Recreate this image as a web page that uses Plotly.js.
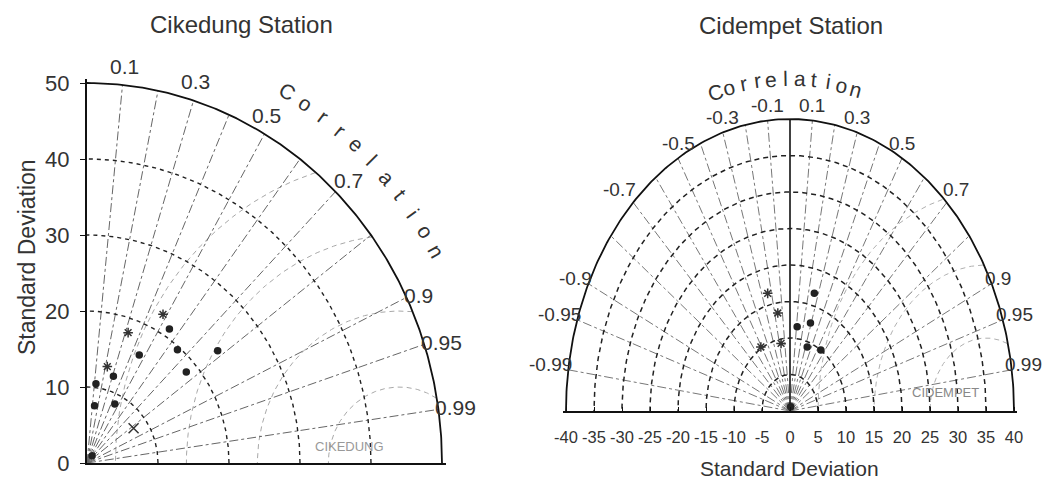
<!DOCTYPE html>
<html>
<head>
<meta charset="utf-8">
<script src="https://cdn.plot.ly/plotly-3.0.1.min.js"></script>
<style>html,body{margin:0;padding:0;background:#fff;}#chart{width:1044px;height:488px;}</style>
</head>
<body>
<div id="chart"></div>
<script>
// ---------------- data ----------------
// Left panel: Cikedung Station
const leftTitle = "Cikedung Station";
const leftStdTicks = [0, 10, 20, 30, 40, 50];
const leftStdArcs = [10, 20, 30, 40];
const leftMaxStd = 50;
const leftCorrLines = [0.1, 0.2, 0.3, 0.4, 0.5, 0.6, 0.7, 0.8, 0.9, 0.95, 0.99];
const leftCorrLabels = [0.1, 0.3, 0.5, 0.7, 0.9, 0.95, 0.99];
const leftRefStd = 44;
const leftRmsArcs = [10, 20, 30, 40];
const leftRefName = "CIKEDUNG";
const leftDotStd  = [21.1, 16.0, 19.6, 23.6, 12.0, 7.6, 18.4, 8.7, 10.5, 1.2];
const leftDotCorr = [0.55, 0.46, 0.65, 0.78, 0.31, 0.14, 0.76, 0.45, 0.12, 0.60];
const leftStarStd  = [22.3, 18.1, 13.0];
const leftStarCorr = [0.48, 0.32, 0.22];
const leftCrossStd  = [8.0];
const leftCrossCorr = [0.82];

// Right panel: Cidempet Station
const rightTitle = "Cidempet Station";
const rightStdTicks = [-40, -35, -30, -25, -20, -15, -10, -5, 0, 5, 10, 15, 20, 25, 30, 35, 40];
const rightStdArcs = [5, 10, 15, 20, 25, 30, 35];
const rightMaxStd = 40;
const rightCorrLines = [-0.99, -0.95, -0.9, -0.8, -0.7, -0.6, -0.5, -0.4, -0.3, -0.2, -0.1,
                        0.1, 0.2, 0.3, 0.4, 0.5, 0.6, 0.7, 0.8, 0.9, 0.95, 0.99];
const rightCorrLabels = [-0.99, -0.95, -0.9, -0.7, -0.5, -0.3, -0.1, 0.1, 0.3, 0.5, 0.7, 0.9, 0.95, 0.99];
const rightRefStd = 35;
const rightRmsArcs = [10, 20, 30];
const rightRefName = "CIDEMPET";
const rightDotStd  = [12.6, 11.6, 9.3, 10.0, 16.7, 0.6];
const rightDotCorr = [0.29, 0.11, 0.33, 0.55, 0.26, 0.2];
const rightStarStd  = [13.6, 9.4, 10.2, 16.6];
const rightStarCorr = [-0.16, -0.17, -0.51, -0.24];

const axisTitle = "Standard Deviation";
const corrWord = "Correlation";

// ---------------- helpers ----------------
const W = 1044, H = 488;
const FONT = "Liberation Sans, Arial, sans-serif";
const traces = [];
const annotations = [];

// right panel frame (pixels) used to place text outside the axis range
const R_X0 = 790, R_XS = 5.6, R_Y0 = 411, R_YS = 7.3;
function rightPaper(x, y) { return [(R_X0 + x * R_XS) / W, 1 - (R_Y0 - y * R_YS) / H]; }

function polarXY(s, r) { return [s * r, s * Math.sqrt(Math.max(0, 1 - r * r))]; }

function arc(cx, rad, t0, t1, rMax, xMin) {
  const xs = [], ys = [];
  const n = 240;
  for (let i = 0; i <= n; i++) {
    const t = (t0 + (t1 - t0) * i / n) * Math.PI / 180;
    const x = cx + rad * Math.cos(t), y = rad * Math.sin(t);
    if (y < -1e-9) continue;
    if (rMax !== undefined && Math.hypot(x, y) > rMax + 1e-9) { xs.push(null); ys.push(null); continue; }
    if (xMin !== undefined && x < xMin) { xs.push(null); ys.push(null); continue; }
    xs.push(x); ys.push(y);
  }
  return [xs, ys];
}

function line(xa, ya, xs, ys, color, width, dash) {
  traces.push({type: 'scatter', mode: 'lines', x: xs, y: ys, xaxis: xa, yaxis: ya,
    line: {color: color, width: width, dash: dash}, hoverinfo: 'skip', showlegend: false, connectgaps: false});
}

function markers(xa, ya, stds, corrs, symbol, size, color) {
  const xs = [], ys = [];
  stds.forEach((s, i) => { const p = polarXY(s, corrs[i]); xs.push(p[0]); ys.push(p[1]); });
  traces.push({type: 'scatter', mode: 'markers', x: xs, y: ys, xaxis: xa, yaxis: ya, cliponaxis: false,
    marker: {symbol: symbol, size: size, color: color, line: {color: color, width: 1.5}},
    hoverinfo: 'skip', showlegend: false});
}

// ---------------- left panel ----------------
leftRmsArcs.forEach(r => { const a = arc(leftRefStd, r, 0, 180, leftMaxStd, 0); line('x', 'y', a[0], a[1], '#a8a8a8', 1, '5px,4px'); });
leftCorrLines.forEach(c => { const p = polarXY(leftMaxStd, c); line('x', 'y', [0, p[0]], [0, p[1]], '#666', 1, 'dashdot'); });
leftStdArcs.forEach(s => { const a = arc(0, s, 0, 90); line('x', 'y', a[0], a[1], '#222', 1.4, '4px,4px'); });
{ const a = arc(0, leftMaxStd, 0, 90); line('x', 'y', a[0], a[1], '#111', 1.8, 'solid'); }
markers('x', 'y', leftDotStd, leftDotCorr, 'circle', 6, '#222');
markers('x', 'y', leftStarStd, leftStarCorr, 'asterisk-open', 8, '#333');
markers('x', 'y', leftCrossStd, leftCrossCorr, 'x-thin-open', 10, '#333');

// ---------------- right panel ----------------
rightRmsArcs.forEach(r => { const a = arc(rightRefStd, r, 0, 180, rightMaxStd); line('x2', 'y2', a[0], a[1], '#b0b0b0', 1, '5px,4px'); });
rightCorrLines.forEach(c => { const p = polarXY(rightMaxStd, c); line('x2', 'y2', [0, p[0]], [0, p[1]], '#777', 1, 'dashdot'); });
{ const p = polarXY(rightMaxStd, 0); line('x2', 'y2', [0, p[0]], [0, p[1]], '#111', 1.6, 'solid'); }
rightStdArcs.forEach(s => { const a = arc(0, s, 0, 180); line('x2', 'y2', a[0], a[1], '#222', 1.5, '5px,4px'); });
{ const a = arc(0, rightMaxStd, 0, 180); line('x2', 'y2', a[0], a[1], '#111', 1.8, 'solid'); }
markers('x2', 'y2', rightDotStd, rightDotCorr, 'circle', 6, '#222');
markers('x2', 'y2', rightStarStd, rightStarCorr, 'asterisk-open', 8, '#333');

// ---------------- text ----------------
function ann(o) { annotations.push(Object.assign({showarrow: false}, o)); }

ann({xref: 'paper', yref: 'paper', x: 241.5 / W, y: 1 - 24 / H, xanchor: 'center', yanchor: 'middle',
     text: leftTitle, font: {family: FONT, size: 24, color: '#333'}});
ann({xref: 'paper', yref: 'paper', x: 791 / W, y: 1 - 25 / H, xanchor: 'center', yanchor: 'middle',
     text: rightTitle, font: {family: FONT, size: 24, color: '#333'}});
ann({xref: 'paper', yref: 'paper', x: 27 / W, y: 1 - 257 / H, xanchor: 'center', yanchor: 'middle', textangle: -90,
     text: axisTitle, font: {family: FONT, size: 23, color: '#333'}});
ann({xref: 'paper', yref: 'paper', x: 789 / W, y: 1 - 468 / H, xanchor: 'center', yanchor: 'middle',
     text: axisTitle, font: {family: FONT, size: 21, color: '#333'}});

// left correlation labels
leftCorrLabels.forEach(c => {
  const p = polarXY(leftMaxStd, c);
  let o = {xref: 'x', yref: 'y', x: p[0], y: p[1], text: String(c), font: {family: FONT, size: 21, color: '#333'}};
  if (c < 0.6) Object.assign(o, {xanchor: 'center', yanchor: 'bottom', yshift: 5, xshift: 2});
  else if (c < 0.8) Object.assign(o, {xanchor: 'left', yanchor: 'bottom', xshift: -4, yshift: -2});
  else Object.assign(o, {xanchor: 'left', yanchor: 'middle', xshift: -5, yshift: 2});
  ann(o);
});
// left curved "Correlation"
corrWord.split('').forEach((ch, i) => {
  const th = 60 - 3.05 * i, R = 56.5;
  const t = th * Math.PI / 180;
  ann({xref: 'x', yref: 'y', x: R * Math.cos(t), y: R * Math.sin(t), text: ch, textangle: 90 - th,
       xanchor: 'center', yanchor: 'middle', font: {family: FONT, size: 21, color: '#333'}});
});
ann({xref: 'x', yref: 'y', x: 37, y: 2.2, text: leftRefName, xanchor: 'center', yanchor: 'middle',
     font: {family: FONT, size: 13, color: '#999'}});

// right correlation labels
rightCorrLabels.forEach(c => {
  const p = polarXY(rightMaxStd, c);
  const a = Math.abs(c);
  let o = {xref: 'x2', yref: 'y2', x: p[0], y: p[1], text: String(c), font: {family: FONT, size: 19, color: '#333'}};
  if (a <= 0.5) Object.assign(o, {xanchor: 'center', yanchor: 'bottom', yshift: 2});
  else if (a < 0.8) Object.assign(o, c > 0 ? {xanchor: 'left', yanchor: 'bottom', xshift: -6} : {xanchor: 'right', yanchor: 'bottom', xshift: 5});
  else Object.assign(o, c > 0 ? {xanchor: 'left', yanchor: 'middle', xshift: -9, yshift: 5} : {xanchor: 'right', yanchor: 'middle', xshift: 6, yshift: 5});
  ann(o);
});
// right curved "Correlation" (above the axis range, so placed on the page)
corrWord.split('').forEach((ch, i) => {
  const th = 107 - 3.2 * i, R = 45.6;
  const t = th * Math.PI / 180;
  const pp = rightPaper(R * Math.cos(t), R * Math.sin(t));
  ann({xref: 'paper', yref: 'paper', x: pp[0], y: pp[1], text: ch, textangle: 90 - th,
       xanchor: 'center', yanchor: 'middle', font: {family: FONT, size: 21, color: '#333'}});
});
ann({xref: 'x2', yref: 'y2', x: 27.7, y: 2.5, text: rightRefName, xanchor: 'center', yanchor: 'middle',
     font: {family: FONT, size: 13, color: '#888'}});

// ---------------- layout ----------------
const layout = {
  width: W, height: H,
  margin: {l: 0, r: 0, t: 0, b: 0},
  paper_bgcolor: '#fff', plot_bgcolor: 'rgba(0,0,0,0)',
  showlegend: false,
  font: {family: FONT, color: '#333'},
  xaxis: {domain: [87 / W, 445.55 / W], range: [0, 50.5], anchor: 'y',
          showgrid: false, zeroline: false, showline: true, linecolor: '#111', linewidth: 2,
          showticklabels: false, ticks: ''},
  yaxis: {domain: [1 - 463 / H, 1 - 79.2 / H], range: [0, 50.5], anchor: 'x',
          showgrid: false, zeroline: false, showline: true, linecolor: '#111', linewidth: 2,
          tickmode: 'array', tickvals: leftStdTicks, ticktext: leftStdTicks.map(String),
          ticks: 'outside', ticklen: 5, tickcolor: '#111', ticklabelstandoff: 6,
          tickfont: {family: FONT, size: 22, color: '#333'}},
  xaxis2: {domain: [563.2 / W, 1016.8 / W], range: [-40.5, 40.5], anchor: 'y2',
           showgrid: false, zeroline: false, showline: true, linecolor: '#111', linewidth: 2,
           tickmode: 'array', tickvals: rightStdTicks, ticktext: rightStdTicks.map(String), tickangle: 0,
           ticks: 'inside', ticklen: 4, tickcolor: '#111', ticklabelstandoff: 10,
           tickfont: {family: FONT, size: 16.5, color: '#333'}},
  yaxis2: {domain: [1 - 411 / H, 1 - 115.35 / H], range: [0, 40.5], anchor: 'x2', visible: false},
  annotations: annotations
};

Plotly.newPlot('chart', traces, layout, {displayModeBar: false, staticPlot: true});
</script>
</body>
</html>
